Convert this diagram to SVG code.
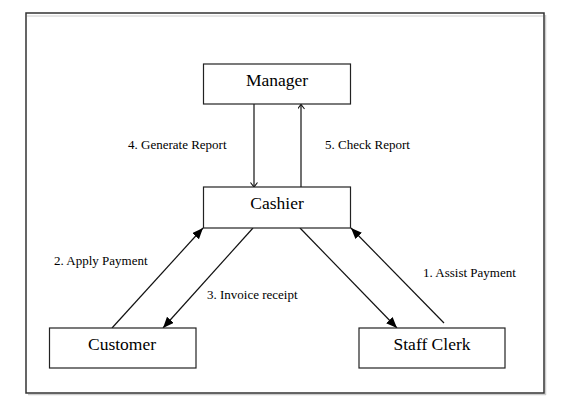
<svg xmlns="http://www.w3.org/2000/svg" width="576" height="412" viewBox="0 0 576 412">
<style>
.box{fill:#fff;stroke:#222;stroke-width:1.2}
.nt{font-family:"Liberation Serif","Times New Roman",serif;font-size:17.5px;fill:#000;text-anchor:middle}
.lb{font-family:"Liberation Serif","Times New Roman",serif;font-size:13px;fill:#000}
.ln{stroke:#111;stroke-width:1.2;fill:none}
</style>
<defs>
<marker id="fa" markerUnits="userSpaceOnUse" markerWidth="12" markerHeight="10" refX="11" refY="4.5" orient="auto">
<path d="M0,0 L11,4.5 L0,9 Z" fill="#000"/>
</marker>
<marker id="oa" markerUnits="userSpaceOnUse" markerWidth="8" markerHeight="10" refX="5" refY="3.5" orient="auto">
<path d="M0.5,0 L5,3.5 L0.5,7" fill="none" stroke="#111" stroke-width="1.1"/>
</marker>
</defs>
<rect width="576" height="412" fill="#fff"/>
<g id="frame">
<line x1="28" y1="394.5" x2="546" y2="394.5" stroke="#ccc" stroke-width="1.5"/>
<line x1="545.5" y1="15" x2="545.5" y2="395" stroke="#ccc" stroke-width="1.5"/>
<rect x="26" y="13" width="518" height="380" fill="none" stroke="#333" stroke-width="1.5"/>
<line x1="27" y1="16" x2="543" y2="16" stroke="#ccc" stroke-width="1"/>
</g>
<g id="connectors">
<line class="ln" x1="254" y1="104" x2="254" y2="187" marker-end="url(#oa)"/>
<line class="ln" x1="301" y1="187" x2="301" y2="104.5" marker-end="url(#oa)"/>
<line class="ln" x1="112" y1="328" x2="203" y2="228" marker-end="url(#fa)"/>
<line class="ln" x1="253" y1="228" x2="163" y2="328" marker-end="url(#fa)"/>
<line class="ln" x1="300" y1="228" x2="397" y2="328" marker-end="url(#fa)"/>
<line class="ln" x1="444" y1="323" x2="351" y2="228" marker-end="url(#fa)"/>
<text class="lb" x="128" y="149">4. Generate Report</text>
<text class="lb" x="325" y="149">5. Check Report</text>
<text class="lb" x="54" y="265">2. Apply Payment</text>
<text class="lb" x="207" y="299">3. Invoice receipt</text>
<text class="lb" x="423" y="277">1. Assist Payment</text>
</g>
<g id="manager">
<rect class="box" x="203.5" y="64" width="147" height="40"/>
<text class="nt" x="277" y="86">Manager</text>
</g>
<g id="cashier">
<rect class="box" x="203.5" y="187" width="147" height="41"/>
<text class="nt" x="277" y="209">Cashier</text>
</g>
<g id="customer">
<rect class="box" x="49.5" y="328" width="146.5" height="40"/>
<text class="nt" x="122" y="350">Customer</text>
</g>
<g id="staff-clerk">
<rect class="box" x="359" y="328" width="146" height="40"/>
<text class="nt" x="432" y="350">Staff Clerk</text>
</g>
</svg>
